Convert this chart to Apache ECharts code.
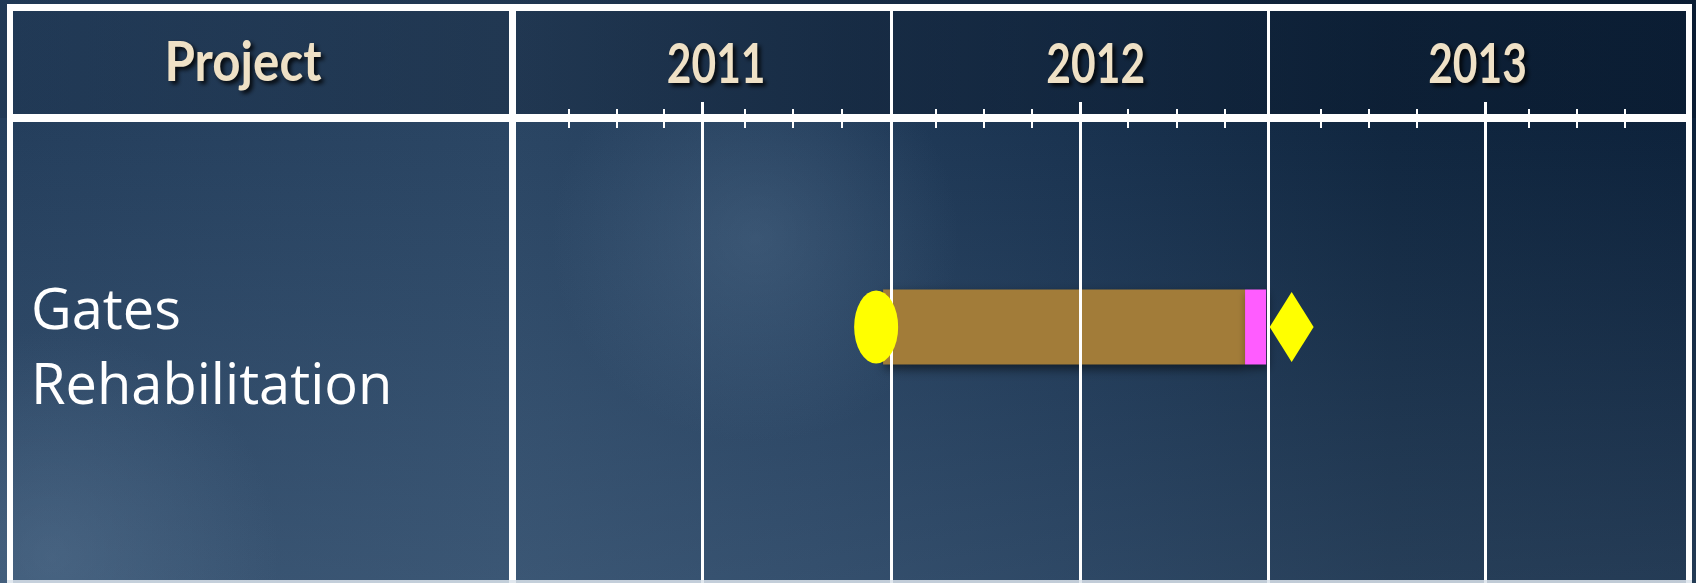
<!DOCTYPE html>
<html>
<head>
<meta charset="utf-8">
<script src="https://cdn.jsdelivr.net/npm/echarts@6/dist/echarts.min.js"></script>
<style>
  html, body { margin: 0; padding: 0; background: #1c3350; }
  #chart { width: 1696px; height: 583px; }
</style>
</head>
<body>
<div id="chart"></div>
<script>
// ---- data (x values in months from Jan 2011) ----
const headerTitle = 'Project';
const projects = ['Gates Rehabilitation'];
const yearLabels = ['2011', '2012', '2013'];
const yearLabelPos = [6.48, 18.53, 30.65];
const yearBounds = [12.05, 24.0];
const midYearTicks = [6.03, 18.03, 30.89];
const minorTicks = [1.81, 3.33, 4.83, 7.40, 8.92, 10.48,
                    13.46, 14.98, 16.51, 19.56, 21.11, 22.63,
                    25.68, 27.21, 28.73, 32.29, 33.81, 35.33];
const axisMin = 0;
const axisMax = 37.3;
const startMilestone = [11.56];
const taskStart = [11.78];
const taskEnd = [23.27];
const overrunEnd = [23.94];
const finishMilestone = [24.75];

// ---- chart ----
const chart = echarts.init(document.getElementById('chart'), null, { renderer: 'canvas' });

const gridLeft = 512, gridRight = 9;
const white = '#ffffff';
const cream = '#efe1c6';
const headerFont = 'bold 56px Lato, "Open Sans", sans-serif';

function hiddenX(grid, extra) {
  return Object.assign({
    type: 'value', gridIndex: grid, min: axisMin, max: axisMax,
    axisLine: { show: false, onZero: false }, axisTick: { show: false },
    axisLabel: { show: false }, splitLine: { show: false }
  }, extra || {});
}
function hiddenY(grid) {
  return {
    type: 'value', gridIndex: grid, min: 0, max: 1,
    axisLine: { show: false, onZero: false }, axisTick: { show: false },
    axisLabel: { show: false }, splitLine: { show: false }
  };
}

const option = {
  animation: false,
  backgroundColor: {
    type: 'linear', x: 0, y: 0, x2: 1, y2: 0,
    colorStops: [
      { offset: 0, color: '#243e5c' },
      { offset: 0.3, color: '#2a4563' },
      { offset: 0.48, color: '#223c5a' },
      { offset: 0.64, color: '#19324f' },
      { offset: 0.82, color: '#10263f' },
      { offset: 1, color: '#0d223b' }
    ]
  },
  grid: [
    { left: gridLeft, right: gridRight, top: 11, bottom: 0 },     // 0 year dividers
    { left: gridLeft, right: gridRight, top: 102, bottom: 0 },    // 1 mid-year lines
    { left: gridLeft, right: gridRight, top: 109, height: 19 },   // 2 minor ticks
    { left: gridLeft, right: gridRight, top: 65, height: 1 },     // 3 year label axis
    { left: gridLeft, right: gridRight, top: 118, bottom: 47 },   // 4 body (bars)
    { left: gridLeft, right: gridRight, top: 118, bottom: -7 }    // 5 row label
  ],
  xAxis: [
    hiddenX(0),
    hiddenX(1),
    hiddenX(2, {
      position: 'top',
      axisTick: { show: true, inside: true, length: 19, customValues: minorTicks,
        lineStyle: { color: white, width: 2 } }
    }),
    hiddenX(3, { position: 'top' }),
    hiddenX(4),
    hiddenX(5)
  ],
  yAxis: [
    hiddenY(0), hiddenY(1), hiddenY(2), hiddenY(3),
    {
      type: 'category', gridIndex: 4, data: projects, inverse: true,
      axisLine: { show: false }, axisTick: { show: false }, splitLine: { show: false },
      axisLabel: { show: false }
    },
    {
      type: 'category', gridIndex: 5, data: projects, inverse: true,
      axisLine: { show: false }, axisTick: { show: false }, splitLine: { show: false },
      axisLabel: {
        show: true, align: 'left', margin: 481,
        formatter: function (v) { return v.replace(' ', '\n'); },
        color: white, fontSize: 56, lineHeight: 75,
        fontFamily: '"Open Sans", sans-serif'
      }
    }
  ],
  series: [
    {
      type: 'line', xAxisIndex: 0, yAxisIndex: 0, data: [], silent: true,
      markLine: {
        silent: true, symbol: ['none', 'none'], label: { show: false },
        lineStyle: { color: white, width: 3, type: 'solid' },
        data: yearBounds.map(v => ({ xAxis: v }))
      }
    },
    {
      type: 'line', xAxisIndex: 1, yAxisIndex: 1, data: [], silent: true,
      markLine: {
        silent: true, symbol: ['none', 'none'], label: { show: false },
        lineStyle: { color: white, width: 3, type: 'solid' },
        data: midYearTicks.map(v => ({ xAxis: v }))
      }
    },
    {
      name: 'offset', type: 'bar', xAxisIndex: 4, yAxisIndex: 4, stack: 'task',
      barWidth: 75, silent: true,
      itemStyle: { color: 'rgba(0,0,0,0)' },
      data: taskStart
    },
    {
      name: 'task', type: 'bar', xAxisIndex: 4, yAxisIndex: 4, stack: 'task',
      barWidth: 75, z: 3,
      itemStyle: { color: '#a27c39', shadowColor: 'rgba(0,0,0,0.55)', shadowBlur: 10, shadowOffsetX: 2, shadowOffsetY: 4 },
      data: taskEnd.map((v, i) => v - taskStart[i])
    },
    {
      name: 'overrun', type: 'bar', xAxisIndex: 4, yAxisIndex: 4, stack: 'task',
      barWidth: 75, z: 3,
      itemStyle: { color: '#ff5cff', shadowColor: 'rgba(0,0,0,0.45)', shadowBlur: 8, shadowOffsetX: 2, shadowOffsetY: 4 },
      data: overrunEnd.map((v, i) => v - taskEnd[i])
    },
    {
      name: 'start', type: 'scatter', xAxisIndex: 4, yAxisIndex: 4, z: 5,
      symbol: 'circle', symbolSize: [44, 73],
      itemStyle: { color: '#ffff00', opacity: 1 },
      data: startMilestone.map((v, i) => [v, projects[i]])
    },
    {
      name: 'finish', type: 'scatter', xAxisIndex: 4, yAxisIndex: 4, z: 5,
      symbol: 'diamond', symbolSize: [44, 70],
      itemStyle: { color: '#ffff00', opacity: 1 },
      data: finishMilestone.map((v, i) => [v, projects[i]])
    }
  ]
};

chart.setOption(option);

// header texts: year labels placed through the year-label axis scale
function headerTextEl(text, x, y, sx) {
  return {
    type: 'text', x: x, y: y, scaleX: sx, z: 20, silent: true,
    style: {
      text: text, font: headerFont, fill: cream,
      textAlign: 'center', textVerticalAlign: 'middle',
      textShadowColor: 'rgba(0,0,0,0.85)', textShadowBlur: 4,
      textShadowOffsetX: 3, textShadowOffsetY: 3
    }
  };
}
function glow(x, y, w, h, cx, cy, r, color) {
  return { type: 'rect', z: -1, silent: true,
    shape: { x: x, y: y, width: w, height: h },
    style: { fill: { type: 'radial', x: cx, y: cy, r: r,
      colorStops: [{ offset: 0, color: color }, { offset: 1, color: color.replace(/[\d.]+\)$/, '0)') }] } } };
}
const frame = [
  // vertical lightening toward the bottom
  { type: 'rect', z: -2, silent: true,
    shape: { x: 0, y: 118, width: 1696, height: 465 },
    style: { fill: { type: 'linear', x: 0, y: 0, x2: 0, y2: 1,
      colorStops: [{ offset: 0, color: 'rgba(120,150,180,0)' }, { offset: 1, color: 'rgba(120,150,180,0.22)' }] } } },
  // darker header band
  { type: 'rect', z: -1, silent: true,
    shape: { x: 0, y: 0, width: 1696, height: 118 },
    style: { fill: { type: 'linear', x: 0, y: 0, x2: 1, y2: 0,
      colorStops: [{ offset: 0, color: 'rgba(5,15,30,0.1)' }, { offset: 0.5, color: 'rgba(5,15,30,0.35)' }, { offset: 1, color: 'rgba(2,10,22,0.2)' }] } } },
  glow(520, 120, 560, 340, 0.42, 0.35, 0.6, 'rgba(100,130,160,0.3)'),
  glow(0, 330, 520, 253, 0.1, 0.9, 0.9, 'rgba(110,140,170,0.3)'),
  { type: 'rect', z: 10, silent: true, shape: { x: 7, y: 4, width: 1685, height: 7 }, style: { fill: white } },
  { type: 'rect', z: 10, silent: true, shape: { x: 7, y: 4, width: 6, height: 579 }, style: { fill: white } },
  { type: 'rect', z: 10, silent: true, shape: { x: 1686, y: 4, width: 6, height: 579 }, style: { fill: white } },
  { type: 'rect', z: 10, silent: true, shape: { x: 7, y: 114, width: 1685, height: 8 }, style: { fill: white } },
  { type: 'rect', z: 10, silent: true, shape: { x: 509, y: 4, width: 7, height: 579 }, style: { fill: white } },
  { type: 'rect', z: 10, silent: true, shape: { x: 7, y: 580, width: 1685, height: 3 }, style: { fill: 'rgba(220,228,236,0.85)' } }
];
const labels = [headerTextEl(headerTitle, 243, 63, 0.88)].concat(
  yearLabels.map((t, i) => headerTextEl(t,
    chart.convertToPixel({ xAxisIndex: 3 }, yearLabelPos[i]), 65, 0.76))
);
chart.setOption({ graphic: frame.concat(labels) });
</script>
</body>
</html>
